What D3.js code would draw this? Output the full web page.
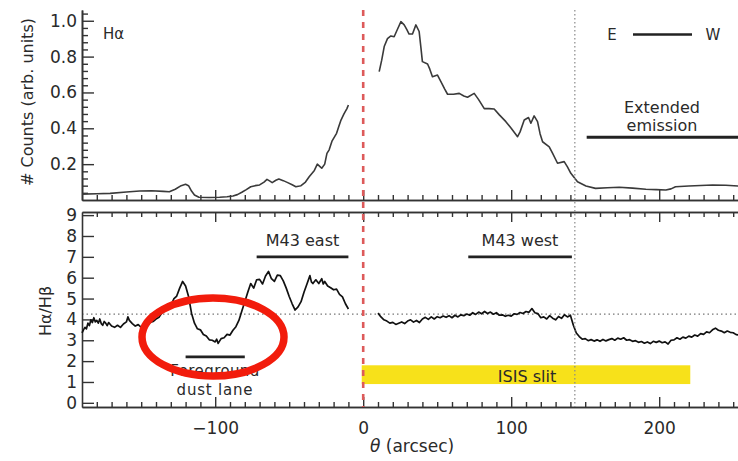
<!DOCTYPE html>
<html>
<head>
<meta charset="UTF-8">
<title>Halpha profile and Balmer decrement</title>
<style>
  body { margin: 0; background: #fff; }
  svg { display: block; }
  text { font-family: "DejaVu Sans", sans-serif; fill: #2a2a2a; }
</style>
</head>
<body>
<svg></svg>
<script src="https://d3js.org/d3.v7.min.js"></script>
<script>

let width = 738, height = 461;

// H-alpha counts, east side (theta < 0) and west side (theta > 0): [theta, counts]
const countsEast = [[-190,0.033],[-180,0.035],[-171,0.037],[-160,0.045],[-151,0.05],[-143,0.052],[-135,0.048],[-131,0.046],
  [-127,0.06],[-123,0.08],[-120,0.088],[-118,0.08],[-116,0.05],[-114,0.028],[-111,0.015],[-104,0.014],[-97,0.015],
  [-92,0.018],[-88,0.022],[-85,0.03],[-82,0.043],[-79,0.058],[-76,0.074],[-73,0.08],[-70,0.084],[-67,0.1],[-65,0.115],
  [-63,0.105],[-61.5,0.097],[-59,0.11],[-57,0.117],[-54,0.108],[-51,0.097],[-48,0.085],[-45.5,0.074],[-43,0.078],
  [-42,0.08],[-39,0.1],[-36.5,0.13],[-33,0.165],[-31,0.2],[-29,0.185],[-28,0.177],[-26,0.2],[-24.5,0.26],[-23,0.28],
  [-21,0.33],[-18,0.372],[-16.5,0.41],[-15,0.446],[-13,0.48],[-11,0.51],[-10,0.53]];
const countsWest = [[10.8,0.716],[12.5,0.78],[14.2,0.856],[16.4,0.9],[18.7,0.915],[20.9,0.911],[23,0.95],[25.5,0.995],
  [27.7,0.977],[29.5,0.95],[31,0.926],[33.3,0.926],[35.6,0.977],[37.8,0.94],[39,0.85],[40,0.772],[43.5,0.759],[45,0.73],
  [46.8,0.688],[50.2,0.697],[52.5,0.66],[55,0.62],[57,0.59],[61,0.59],[64.9,0.595],[68,0.58],[70.5,0.573],[75,0.595],
  [78,0.56],[81.8,0.51],[85,0.51],[88.5,0.508],[92,0.475],[96.4,0.437],[100,0.4],[104.3,0.353],[106,0.38],[108.8,0.446],
  [111.7,0.46],[113.3,0.428],[115.5,0.469],[117.8,0.437],[119.5,0.37],[121.2,0.325],[125.7,0.297],[128,0.26],
  [131.3,0.205],[135.8,0.214],[138,0.185],[140.3,0.149],[144.8,0.102],[150.5,0.078],[157,0.065],[165,0.068],
  [173,0.071],[182,0.066],[191,0.06],[198,0.058],[204.5,0.056],[208,0.062],[211,0.074],[220,0.078],[236,0.084],
  [245,0.082],[254,0.078]];

// Halpha/Hbeta ratio: [theta, ratio]
const ratioEast = [[-190,3.35],[-189,3.5],[-188,3.62],[-187,3.55],[-186,3.82],[-185,3.7],[-184,3.98],[-183,3.85],[-182,4.08],
  [-181,3.88],[-180,3.95],[-179,3.82],[-178,4.02],[-177,3.8],[-176,3.72],[-175,3.9],[-174,3.82],[-173,3.7],[-172,3.85],
  [-170,3.68],[-168,3.62],[-166,3.72],[-164,3.62],[-162,3.78],[-160,3.88],[-159,4.12],[-158,3.95],[-156,3.8],[-154,3.68],
  [-152,3.75],[-150,3.62],[-148,3.72],[-146,3.68],[-144,3.85],[-142,3.9],[-140,4.02],[-138,4.1],[-136,4.32],[-134,4.4],
  [-132,4.58],[-130,4.65],[-128,4.98],[-126,5.12],[-124,5.5],[-122,5.82],[-120,5.6],[-118,5.1],[-116,4.3],[-114,3.82],
  [-112,3.55],[-110,3.5],[-108,3.28],[-106,3.2],[-104,3.02],[-102,3.0],[-100,2.92],[-99,3.05],[-98,2.85],[-96,3.08],
  [-94,3.12],[-92,3.28],[-90,3.25],[-88,3.48],[-86,3.65],[-84,3.95],[-82,4.4],[-80,4.85],[-78,5.3],[-76,5.72],[-74,5.5],
  [-72,5.9],[-70,5.92],[-68,5.7],[-66,6.08],[-64,6.3],[-62,5.95],[-60,5.82],[-58,6.12],[-56,6.1],[-54,5.85],[-52,5.5],
  [-50,5.1],[-48,4.75],[-46,4.45],[-44,4.6],[-42,4.85],[-40,5.3],[-38,5.7],[-36,6.1],[-35,5.8],[-34,5.72],[-32,5.9],
  [-30,5.72],[-28,5.95],[-27,5.7],[-26,5.82],[-24,5.6],[-22,5.52],[-20,5.42],[-18,5.45],[-16,5.2],[-14,5.08],[-12,4.75],[-10,4.5]];
const ratioWest = [[10,4.3],[12,4.12],[14,3.98],[16,3.92],[18,3.82],[20,3.86],[22,3.76],[24,3.82],[26,3.88],[28,3.8],
  [30,3.92],[32,3.98],[34,3.87],[36,3.95],[38,3.85],[40,4.02],[42,4.1],[44,4.0],[46,4.12],[48,4.02],[50,4.13],[52,4.08],
  [54,4.16],[56,4.1],[58,4.18],[60,4.08],[62,4.2],[64,4.12],[66,4.22],[68,4.18],[70,4.26],[72,4.2],[74,4.32],[76,4.24],
  [78,4.35],[80,4.27],[82,4.38],[84,4.28],[86,4.35],[88,4.25],[90,4.32],[92,4.2],[94,4.22],[96,4.15],[98,4.2],[100,4.16],
  [102,4.27],[104,4.24],[106,4.33],[108,4.28],[110,4.38],[112,4.34],[114,4.52],[116,4.32],[118,4.28],[120,4.08],[122,4.12],
  [124,4.02],[126,4.18],[128,4.06],[130,3.98],[132,4.14],[134,4.05],[136,4.22],[138,4.12],[140,4.2],[142,3.72],[144,3.35],
  [146,3.18],[148,3.05],[150,3.08],[152,2.98],[154,3.03],[156,2.96],[158,3.02],[160,2.95],[162,3.04],[164,2.97],[166,3.03],
  [168,3.08],[170,3.0],[172,3.1],[174,3.05],[176,3.12],[178,3.0],[180,3.03],[182,2.95],[184,2.98],[186,2.9],[188,2.94],
  [190,2.86],[192,2.92],[194,2.84],[196,2.95],[198,2.9],[200,2.96],[202,2.88],[204,2.92],[206,2.82],[208,3.0],[210,3.02],
  [212,3.12],[214,3.05],[216,3.15],[218,3.1],[220,3.2],[222,3.15],[224,3.25],[226,3.2],[228,3.32],[230,3.28],[232,3.4],
  [234,3.36],[236,3.5],[238,3.58],[240,3.48],[242,3.44],[244,3.36],[246,3.44],[248,3.38],[250,3.36],[252,3.27],[254,3.25]];

// reference lines and annotation bars
const centreTheta = 0;          // red dashed line
const slitEdgeTheta = 143;      // grey dotted line
const meanRatio = 4.25;         // horizontal dotted line
const extendedBar = [151, 270, 0.35];
const eastBar = [-72, -10, 7.0];
const westBar = [71, 141, 7.0];
const dustBar = [-120, -80, 2.2];
const isisSlit = [-1, 221, 0.9, 1.8];

const xTicks = [-100, 0, 100, 200];
const yTopTicks = [0.2, 0.4, 0.6, 0.8, 1.0];
const yBotTicks = [0, 1, 2, 3, 4, 5, 6, 7, 8, 9];

let svg = d3.select("svg").attr("width", width).attr("height", height);

let x = d3.scaleLinear().domain([-190, 260]).range([82, 748]);
let yTop = d3.scaleLinear().domain([0, 1.06]).range([200, 10]);
let yBot = d3.scaleLinear().domain([-0.2, 9.15]).range([407, 212]);

let minorX = d3.range(-180, 261, 10).filter(v => v % 100 != 0);
let minorYTop = d3.range(0.04, 1.05, 0.04).filter(v => Math.abs(v * 5 - Math.round(v * 5)) > 0.01);

function styleAxis(g) {
  g.select(".domain").attr("stroke", "#333").attr("stroke-width", 1.6);
  g.selectAll(".tick line").attr("stroke", "#333").attr("stroke-width", 1.4);
  g.selectAll(".tick text").attr("font-family", "DejaVu Sans").attr("font-size", 17).attr("fill", "#333");
}

// ---------- top panel ----------
let upper = svg.append("g");

upper.append("g").attr("transform", "translate(82,0)")
  .call(d3.axisLeft(yTop).tickValues(minorYTop).tickSize(-6).tickSizeOuter(0).tickFormat(""))
  .call(styleAxis);
upper.append("g").attr("transform", "translate(82,0)")
  .call(d3.axisLeft(yTop).tickValues(yTopTicks).tickSize(-12).tickSizeOuter(0).tickPadding(5).tickFormat(d3.format(".1f")))
  .call(styleAxis);

upper.append("g").attr("transform", "translate(0,200)")
  .call(d3.axisBottom(x).tickValues(minorX).tickSize(-5).tickSizeOuter(0).tickFormat(""))
  .call(styleAxis);
upper.append("g").attr("transform", "translate(0,200)")
  .call(d3.axisBottom(x).tickValues(xTicks).tickSize(-10).tickSizeOuter(0).tickFormat(""))
  .call(styleAxis);

let lineTop = d3.line().x(d => x(d[0])).y(d => yTop(d[1]));
[countsEast, countsWest].forEach(s => {
  upper.append("path").datum(s)
    .attr("fill", "none").attr("stroke", "#3a3a3a").attr("stroke-width", 1.6)
    .attr("stroke-linejoin", "round")
    .attr("d", lineTop);
});

upper.append("text").attr("x", 103).attr("y", 39).attr("font-size", 15).text("Hα");
upper.append("text").attr("x", 612).attr("y", 40).attr("font-size", 15).attr("text-anchor", "middle").text("E");
upper.append("line").attr("x1", 633).attr("x2", 692).attr("y1", 34.5).attr("y2", 34.5)
  .attr("stroke", "#222").attr("stroke-width", 2.5);
upper.append("text").attr("x", 713).attr("y", 40).attr("font-size", 15).attr("text-anchor", "middle").text("W");

upper.append("text").attr("x", 662).attr("y", 113).attr("font-size", 16).attr("text-anchor", "middle").text("Extended");
upper.append("text").attr("x", 662).attr("y", 131).attr("font-size", 16).attr("text-anchor", "middle").text("emission");
upper.append("line")
  .attr("x1", x(extendedBar[0])).attr("x2", x(extendedBar[1]))
  .attr("y1", yTop(extendedBar[2])).attr("y2", yTop(extendedBar[2]))
  .attr("stroke", "#222").attr("stroke-width", 2.8);

upper.append("text")
  .attr("transform", "translate(33,102) rotate(-90)")
  .attr("text-anchor", "middle").attr("font-size", 16)
  .text("# Counts (arb. units)");

// ---------- bottom panel ----------
let lower = svg.append("g");

// ISIS slit band
lower.append("rect")
  .attr("x", x(isisSlit[0])).attr("width", x(isisSlit[1]) - x(isisSlit[0]))
  .attr("y", yBot(isisSlit[3])).attr("height", yBot(isisSlit[2]) - yBot(isisSlit[3]))
  .attr("fill", "#f7e11a");
lower.append("text").attr("x", (x(isisSlit[0]) + x(isisSlit[1])) / 2 + 1).attr("y", 382)
  .attr("font-size", 16).attr("text-anchor", "middle").attr("fill", "#4a4420").text("ISIS slit");

lower.append("line")
  .attr("x1", 82).attr("x2", 748).attr("y1", yBot(meanRatio)).attr("y2", yBot(meanRatio))
  .attr("stroke", "#777").attr("stroke-width", 1.2).attr("stroke-dasharray", "1.5,3");

lower.append("g").attr("transform", "translate(82,0)")
  .call(d3.axisLeft(yBot).tickValues(yBotTicks).tickSize(-12).tickSizeOuter(0).tickPadding(5).tickFormat(d3.format("d")))
  .call(styleAxis);
lower.append("g").attr("transform", "translate(0,212)")
  .call(d3.axisTop(x).tickValues(minorX).tickSize(-5).tickSizeOuter(0).tickFormat(""))
  .call(styleAxis);
lower.append("g").attr("transform", "translate(0,212)")
  .call(d3.axisTop(x).tickValues(xTicks).tickSize(-10).tickSizeOuter(0).tickFormat(""))
  .call(styleAxis);
lower.append("g").attr("transform", "translate(0,407)")
  .call(d3.axisBottom(x).tickValues(minorX).tickSize(-5).tickSizeOuter(0).tickFormat(""))
  .call(styleAxis);
lower.append("g").attr("transform", "translate(0,407)")
  .call(d3.axisBottom(x).tickValues(xTicks).tickSize(-10).tickSizeOuter(0).tickPadding(15))
  .call(styleAxis);

let lineBot = d3.line().x(d => x(d[0])).y(d => yBot(d[1]));
[ratioEast, ratioWest].forEach(s => {
  lower.append("path").datum(s)
    .attr("fill", "none").attr("stroke", "#111").attr("stroke-width", 1.7)
    .attr("stroke-linejoin", "round")
    .attr("d", lineBot);
});

function bar(b) {
  lower.append("line")
    .attr("x1", x(b[0])).attr("x2", x(b[1]))
    .attr("y1", yBot(b[2])).attr("y2", yBot(b[2]))
    .attr("stroke", "#222").attr("stroke-width", 2.8);
}
bar(eastBar); bar(westBar); bar(dustBar);

lower.append("text").attr("x", (x(eastBar[0]) + x(eastBar[1])) / 2).attr("y", 246)
  .attr("font-size", 16).attr("text-anchor", "middle").text("M43 east");
lower.append("text").attr("x", 520).attr("y", 246)
  .attr("font-size", 16).attr("text-anchor", "middle").text("M43 west");
lower.append("text").attr("x", 215).attr("y", 375.5)
  .attr("font-size", 15).attr("letter-spacing", 0.4).attr("text-anchor", "middle").text("Foreground");
lower.append("text").attr("x", 215).attr("y", 394.5)
  .attr("font-size", 15).attr("letter-spacing", 0.8).attr("text-anchor", "middle").text("dust lane");

lower.append("text")
  .attr("transform", "translate(51,311) rotate(-90)")
  .attr("text-anchor", "middle").attr("font-size", 16)
  .text("Hα/Hβ");

let xt = svg.append("text").attr("x", 370).attr("y", 452).attr("font-size", 17);
xt.append("tspan").attr("font-style", "italic").text("θ");
xt.append("tspan").text(" (arcsec)");

// ---------- vertical reference lines across both panels ----------
svg.append("line")
  .attr("x1", x(slitEdgeTheta)).attr("x2", x(slitEdgeTheta)).attr("y1", 10).attr("y2", 407)
  .attr("stroke", "#888").attr("stroke-width", 1.2).attr("stroke-dasharray", "1.5,2.5");
svg.append("line")
  .attr("x1", x(centreTheta)).attr("x2", x(centreTheta)).attr("y1", 10).attr("y2", 407)
  .attr("stroke", "#dd5a5a").attr("stroke-width", 2.6).attr("stroke-dasharray", "6,6");

// red annotation ellipse
svg.append("ellipse")
  .attr("cx", 213).attr("cy", 337).attr("rx", 71).attr("ry", 39)
  .attr("fill", "none").attr("stroke", "#f21c0c").attr("stroke-width", 7.5);

</script>
</body>
</html>
